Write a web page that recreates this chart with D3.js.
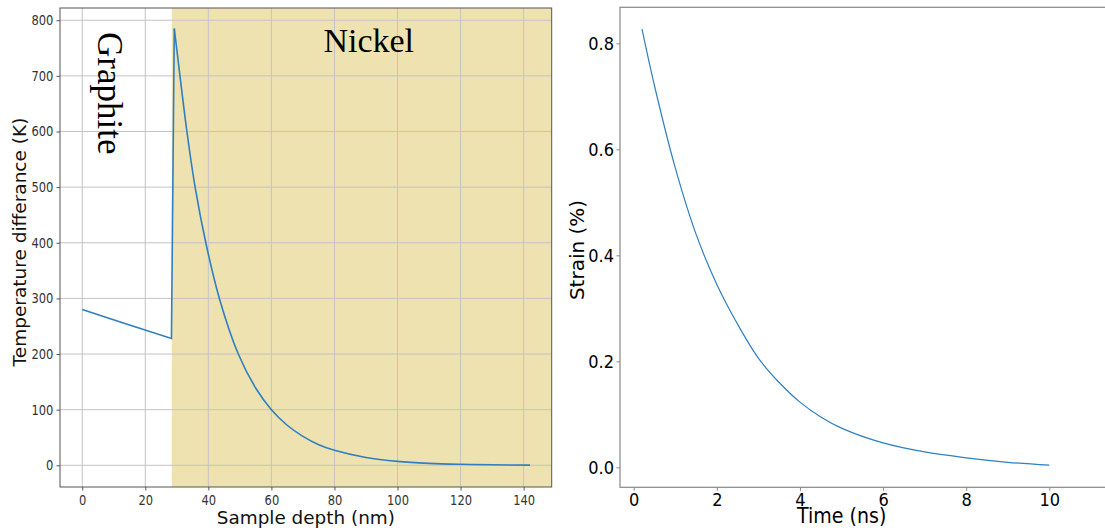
<!DOCTYPE html>
<html>
<head>
<meta charset="utf-8">
<script src="https://cdn.jsdelivr.net/npm/d3@7"></script>
<style>
  html, body { margin: 0; padding: 0; background: #fff; }
  svg { display: block; }
  text { font-family: "DejaVu Sans", sans-serif; }
</style>
</head>
<body>
<svg id="fig" width="1105" height="531"></svg>
<script>
// Temperature profile through the graphite / nickel stack
const depthNm = [0, 14, 28.3, 29.2, 31.0, 33.2, 35.8, 39.2, 43.5, 49.5, 55, 60, 65, 70, 75, 80, 90, 100, 110, 120, 130, 142];
const tempDiffK = [280, 254, 228, 785, 700, 600, 500, 400, 300, 200, 139, 100, 72, 52, 37, 27, 14, 7, 3.5, 1.8, 0.9, 0.4];
const nickelStartNm = 28.4;
const depthTicks = [0, 20, 40, 60, 80, 100, 120, 140];
const tempTicks = [0, 100, 200, 300, 400, 500, 600, 700, 800];
const layerNames = ["Graphite", "Nickel"];

// Strain relaxation over time
const timeNs = [0.2, 0.5, 1, 1.5, 2, 2.5, 3, 3.5, 4, 4.5, 5, 6, 7, 8, 9, 10];
const strainPct = [0.827, 0.72, 0.565, 0.44, 0.345, 0.27, 0.206, 0.16, 0.123, 0.095, 0.074, 0.046, 0.029, 0.018, 0.0095, 0.004];
const timeTicks = [0, 2, 4, 6, 8, 10];
const strainTicks = [0.0, 0.2, 0.4, 0.6, 0.8];

const svg = d3.select("#fig");
const lineColor = "#2f7fc1";

// ---------- left panel ----------
const L = { left: 60, right: 551.7, top: 8, bottom: 487 };
const xL = d3.scaleLinear().domain([-7.05, 148.9]).range([L.left, L.right]);
const yL = d3.scaleLinear().domain([-39, 822]).range([L.bottom, L.top]);

const gL = svg.append("g");
gL.append("rect")
  .attr("x", xL(nickelStartNm)).attr("y", L.top)
  .attr("width", L.right - xL(nickelStartNm)).attr("height", L.bottom - L.top)
  .attr("fill", "#eee2b0");

// grid
gL.append("g").selectAll("line").data(depthTicks).join("line")
  .attr("x1", d => xL(d)).attr("x2", d => xL(d))
  .attr("y1", L.top).attr("y2", L.bottom)
  .attr("stroke", "#c4c4c4").attr("stroke-width", 1);
gL.append("g").selectAll("line").data(tempTicks).join("line")
  .attr("x1", L.left).attr("x2", L.right)
  .attr("y1", d => yL(d)).attr("y2", d => yL(d))
  .attr("stroke", "#c4c4c4").attr("stroke-width", 1);

// profile: straight graphite segment + jump, then smooth nickel decay
const pts = depthNm.map((d, i) => [d, tempDiffK[i]]);
const lineLin = d3.line().x(d => xL(d[0])).y(d => yL(d[1])).curve(d3.curveLinear);
const lineSm = d3.line().x(d => xL(d[0])).y(d => yL(d[1])).curve(d3.curveCatmullRom.alpha(0.5));
gL.append("path").attr("d", lineLin(pts.slice(0, 4)))
  .attr("fill", "none").attr("stroke", lineColor).attr("stroke-width", 1.6);
gL.append("path").attr("d", lineSm(pts.slice(3)))
  .attr("fill", "none").attr("stroke", lineColor).attr("stroke-width", 1.6);

// layer labels
gL.append("text")
  .attr("transform", `translate(${xL(5.0)},32) rotate(90)`)
  .style("font-family", "'Liberation Serif', serif")
  .attr("font-size", 35).attr("fill", "#000")
  .text(layerNames[0]);
gL.append("text")
  .attr("x", xL(76.5)).attr("y", 51.5)
  .style("font-family", "'Liberation Serif', serif")
  .attr("font-size", 34).attr("fill", "#000")
  .text(layerNames[1]);

// axes
const axL_x = gL.append("g").attr("transform", `translate(0,${L.bottom})`)
  .call(d3.axisBottom(xL).tickValues(depthTicks).tickFormat(d3.format("d")).tickSize(3.5).tickPadding(3).tickSizeOuter(0));
const axL_y = gL.append("g").attr("transform", `translate(${L.left},0)`)
  .call(d3.axisLeft(yL).tickValues(tempTicks).tickFormat(d3.format("d")).tickSize(3.5).tickPadding(3.2).tickSizeOuter(0));
[axL_x, axL_y].forEach(a => {
  a.select(".domain").remove();
  a.selectAll(".tick line").attr("stroke", "#555");
  a.selectAll(".tick text").attr("font-size", 11.5).attr("fill", "#333")
    .style("font-family", "'DejaVu Sans', sans-serif")
    .attr("transform", "scale(1,1.2)");
});
gL.append("rect")
  .attr("x", L.left).attr("y", L.top)
  .attr("width", L.right - L.left).attr("height", L.bottom - L.top)
  .attr("fill", "none").attr("stroke", "#555").attr("stroke-width", 1);

gL.append("text")
  .attr("transform", `translate(25.5,242) rotate(-90)`)
  .attr("text-anchor", "middle").attr("font-size", 18.5).attr("fill", "#111")
  .text("Temperature differance (K)");
gL.append("text")
  .attr("x", (L.left + L.right) / 2).attr("y", 524)
  .attr("text-anchor", "middle").attr("font-size", 18.4).attr("fill", "#111")
  .text("Sample depth (nm)");

// ---------- right panel ----------
const R = { left: 620, right: 1106, top: 7.3, bottom: 487.3 };
const xR = d3.scaleLinear().domain([-0.33, 11.364]).range([R.left, R.right]);
const yR = d3.scaleLinear().domain([-0.0377, 0.868]).range([R.bottom, R.top]);

const gR = svg.append("g");
gR.append("path")
  .attr("d", d3.line().x((d, i) => xR(timeNs[i])).y(d => yR(d)).curve(d3.curveCatmullRom.alpha(0.5))(strainPct))
  .attr("fill", "none").attr("stroke", lineColor).attr("stroke-width", 1.2);

const axR_x = gR.append("g").attr("transform", `translate(0,${R.bottom})`)
  .call(d3.axisBottom(xR).tickValues(timeTicks).tickFormat(d3.format("d")).tickSize(3.5).tickPadding(1.8).tickSizeOuter(0));
const axR_y = gR.append("g").attr("transform", `translate(${R.left},0)`)
  .call(d3.axisLeft(yR).tickValues(strainTicks).tickFormat(d3.format(".1f")).tickSize(3.5).tickPadding(2.5).tickSizeOuter(0));
[axR_x, axR_y].forEach(a => {
  a.select(".domain").remove();
  a.selectAll(".tick line").attr("stroke", "#888");
  a.selectAll(".tick text").attr("font-size", 16.2).attr("fill", "#000")
    .style("font-family", "'DejaVu Sans', sans-serif")
    .attr("transform", "scale(1,1.13)");
});
gR.append("rect")
  .attr("x", R.left).attr("y", R.top)
  .attr("width", R.right - R.left).attr("height", R.bottom - R.top)
  .attr("fill", "none").attr("stroke", "#888").attr("stroke-width", 1.2);

gR.append("text")
  .attr("transform", `translate(584,250) rotate(-90)`)
  .attr("text-anchor", "middle").attr("font-size", 20).attr("fill", "#000")
  .text("Strain (%)");
gR.append("text")
  .attr("transform", `translate(841.7,523.3) scale(1,1.15)`)
  .attr("text-anchor", "middle").attr("font-size", 19).attr("fill", "#000")
  .text("Time (ns)");
</script>
</body>
</html>
